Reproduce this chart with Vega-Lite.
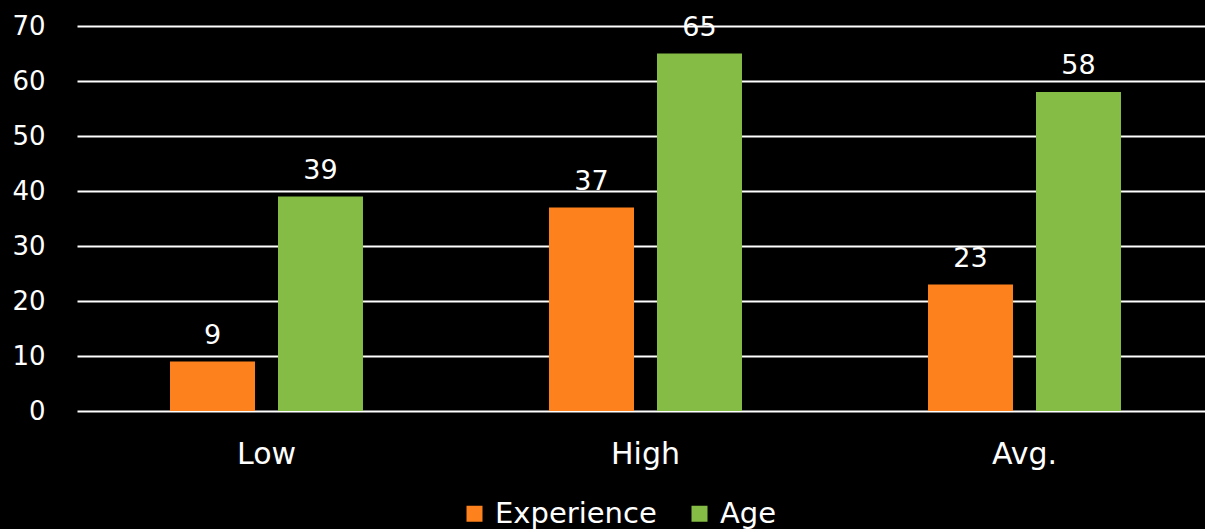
{
  "$schema": "https://vega.github.io/schema/vega-lite/v6.json",
  "autosize": "none",
  "width": 1137,
  "height": 385,
  "padding": {"left": 77, "top": 26, "right": 0, "bottom": 118},
  "background": "#000000",
  "config": {
    "view": {"stroke": null},
    "font": "DejaVu Sans",
    "axis": {"labelColor": "#ffffff", "labelFont": "DejaVu Sans", "titleColor": "#ffffff"},
    "legend": {"labelColor": "#ffffff", "labelFont": "DejaVu Sans"}
  },
  "data": {
    "values": [
      {"category": "Low", "series": "Experience", "value": 9},
      {"category": "Low", "series": "Age", "value": 39},
      {"category": "High", "series": "Experience", "value": 37},
      {"category": "High", "series": "Age", "value": 65},
      {"category": "Avg.", "series": "Experience", "value": 23},
      {"category": "Avg.", "series": "Age", "value": 58}
    ]
  },
  "encoding": {
    "x": {
      "field": "category", "type": "nominal", "sort": ["Low", "High", "Avg."],
      "scale": {"paddingInner": 0.4908, "paddingOuter": 0.2454},
      "axis": {"title": null, "labelAngle": 0, "labelFontSize": 30, "labelPadding": 28, "ticks": false, "domain": false, "grid": false}
    },
    "xOffset": {
      "field": "series", "type": "nominal", "sort": ["Experience", "Age"],
      "scale": {"paddingInner": 0.213, "paddingOuter": 0}
    },
    "y": {
      "field": "value", "type": "quantitative",
      "scale": {"domain": [0, 70], "nice": false},
      "axis": {"title": null, "values": [0,10,20,30,40,50,60,70], "labelFontSize": 26, "labelPadding": 32, "ticks": false, "domain": false, "grid": true, "gridColor": "#ffffff", "gridWidth": 2, "gridOpacity": 1}
    }
  },
  "layer": [
    {
      "mark": {"type": "bar"},
      "encoding": {
        "color": {
          "field": "series", "type": "nominal", "sort": ["Experience", "Age"],
          "scale": {"domain": ["Experience", "Age"], "range": ["#FD821D", "#84BC45"]},
          "legend": {"title": null, "orient": "none", "legendX": 383, "legendY": 473, "direction": "horizontal", "symbolType": "square", "symbolSize": 256, "symbolStrokeWidth": 0, "labelFontSize": 29, "labelOffset": 6, "labelLimit": 0, "columnPadding": 28}
        }
      }
    },
    {
      "mark": {"type": "text", "baseline": "alphabetic", "dy": -18, "fontSize": 27, "color": "#ffffff", "font": "DejaVu Sans"},
      "encoding": {"text": {"field": "value", "type": "quantitative"}}
    }
  ]
}
